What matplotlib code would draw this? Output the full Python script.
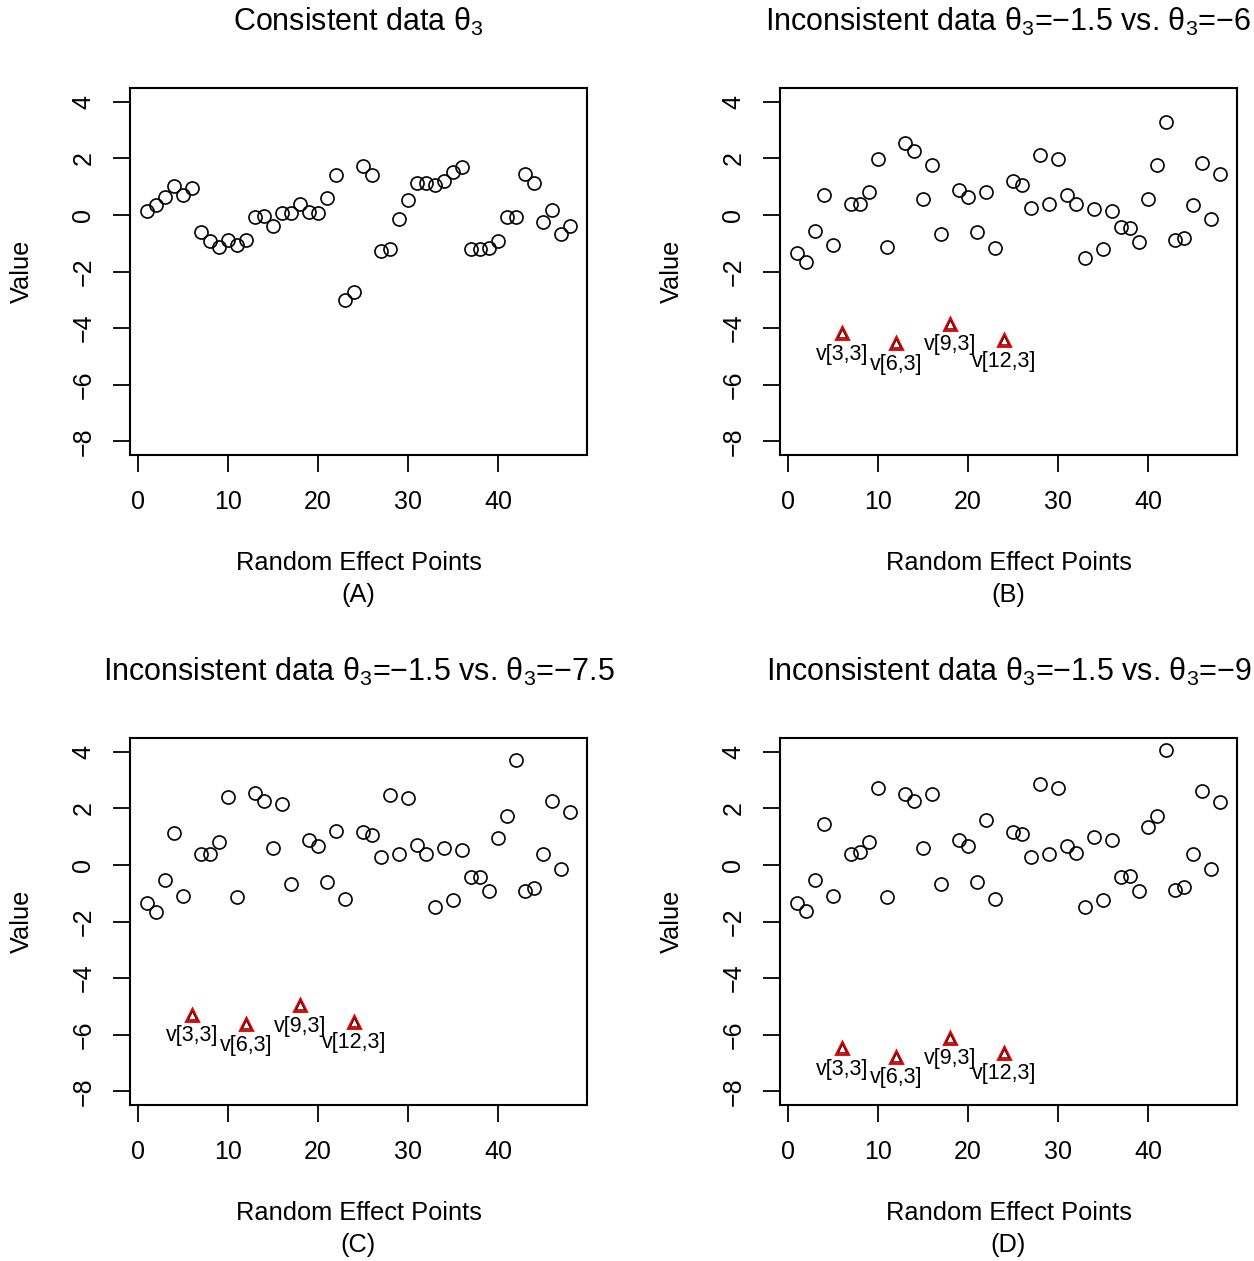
import numpy as np
import matplotlib
matplotlib.use("Agg")
import matplotlib.pyplot as plt

plt.rcParams['font.family'] = ['Liberation Sans', 'DejaVu Sans']
plt.rcParams['mathtext.fontset'] = 'custom'
plt.rcParams['mathtext.rm'] = 'Liberation Sans'
plt.rcParams['mathtext.it'] = 'Liberation Sans:italic'
plt.rcParams['axes.unicode_minus'] = True

x_points = list(range(1, 49))

values_a = [0.12, 0.35, 0.64, 1.02, 0.70, 0.96, -0.61, -0.92, -1.14, -0.88,
            -1.06, -0.90, -0.06, -0.04, -0.39, 0.06, 0.05, 0.38, 0.10, 0.07,
            0.58, 1.40, -3.02, -2.72, 1.72, 1.41, -1.29, -1.22, -0.14, 0.52,
            1.14, 1.14, 1.06, 1.20, 1.50, 1.68, -1.22, -1.22, -1.18, -0.94,
            -0.06, -0.06, 1.44, 1.12, -0.25, 0.18, -0.69, -0.40]

values_b = [-1.34, -1.67, -0.58, 0.71, -1.08, -4.18, 0.40, 0.40, 0.79, 1.98,
            -1.12, -4.53, 2.54, 2.24, 0.56, 1.76, -0.66, -3.85, 0.89, 0.62,
            -0.62, 0.82, -1.16, -4.42, 1.18, 1.06, 0.26, 2.10, 0.40, 1.96,
            0.71, 0.39, -1.53, 0.22, -1.22, 0.12, -0.42, -0.45, -0.95, 0.56,
            1.75, 3.29, -0.87, -0.82, 0.35, 1.84, -0.14, 1.44]

values_c = [-1.35, -1.65, -0.55, 1.12, -1.09, -5.30, 0.40, 0.40, 0.80, 2.38,
            -1.14, -5.63, 2.53, 2.26, 0.58, 2.15, -0.68, -4.95, 0.88, 0.67,
            -0.60, 1.21, -1.20, -5.54, 1.16, 1.06, 0.27, 2.47, 0.39, 2.36,
            0.69, 0.39, -1.50, 0.61, -1.24, 0.51, -0.42, -0.42, -0.93, 0.95,
            1.72, 3.69, -0.91, -0.80, 0.38, 2.24, -0.15, 1.85]

values_d = [-1.34, -1.62, -0.55, 1.45, -1.09, -6.47, 0.40, 0.44, 0.81, 2.73,
            -1.15, -6.78, 2.51, 2.26, 0.59, 2.51, -0.69, -6.11, 0.87, 0.68,
            -0.59, 1.58, -1.19, -6.64, 1.16, 1.09, 0.28, 2.84, 0.39, 2.72,
            0.67, 0.41, -1.49, 0.98, -1.25, 0.87, -0.42, -0.41, -0.93, 1.32,
            1.73, 4.06, -0.89, -0.79, 0.39, 2.62, -0.15, 2.21]

outlier_x = [6, 12, 18, 24]
outlier_labels = ['v[3,3]', 'v[6,3]', 'v[9,3]', 'v[12,3]']

titles = [r'Consistent data θ$_3$',
          r'Inconsistent data θ$_3$=−1.5 vs. θ$_3$=−6',
          r'Inconsistent data θ$_3$=−1.5 vs. θ$_3$=−7.5',
          r'Inconsistent data θ$_3$=−1.5 vs. θ$_3$=−9']
panel_tags = ['(A)', '(B)', '(C)', '(D)']
x_ticks = [0, 10, 20, 30, 40]
y_ticks = [4, 2, 0, -2, -4, -6, -8]

series = [values_a, values_b, values_c, values_d]
has_outliers = [False, True, True, True]

W, H = 1254, 1261
fig = plt.figure(figsize=(W / 100, H / 100), dpi=100)

boxes = [(130, 88), (780, 88), (130, 738), (780, 738)]
bw, bh = 457, 367

for i in range(4):
    l, t = boxes[i]
    ax = fig.add_axes([l / W, 1 - (t + bh) / H, bw / W, bh / H])
    vals = series[i]
    xs = np.array(x_points)
    ys = np.array(vals)
    if has_outliers[i]:
        mask = ~np.isin(xs, outlier_x)
    else:
        mask = np.ones(len(xs), dtype=bool)
    ax.plot(xs[mask], ys[mask], linestyle='none', marker='o', ms=9.4,
            mfc='none', mec='black', mew=1.2)
    if has_outliers[i]:
        oy = [vals[x - 1] for x in outlier_x]
        ax.plot(outlier_x, oy, linestyle='none', marker='^', ms=9.2,
                mfc='none', mec='#e00000', mew=2.0)
        ax.plot(outlier_x, oy, linestyle='none', marker='^', ms=5.5,
                mfc='none', mec='black', mew=0.5)
        for xv, yv, lab in zip(outlier_x, oy, outlier_labels):
            ax.annotate(lab, xy=(xv, yv), xytext=(0, -21),
                        textcoords='offset pixels', ha='center', va='center',
                        fontsize=15.5)
    ax.set_xlim(1 - 0.04 * 47, 48 + 0.04 * 47)
    ax.set_ylim(-8 - 0.04 * 12, 4 + 0.04 * 12)
    ax.set_xticks(x_ticks)
    ax.set_yticks(y_ticks)
    ax.set_yticklabels([str(v).replace('-', '−') for v in y_ticks])
    ax.set_xticklabels([str(v) for v in x_ticks])
    ax.tick_params(axis='both', direction='out', length=12, width=1.3,
                   labelsize=18, pad=13)
    ax.tick_params(axis='y', labelrotation=90, pad=13)
    for lab in ax.get_yticklabels():
        lab.set_va('center')
    for sp in ax.spines.values():
        sp.set_linewidth(1.5)
    ax.annotate(titles[i], xy=(0.5, 1), xycoords='axes fraction',
                xytext=(0, 66), textcoords='offset pixels',
                ha='center', va='center', fontsize=22)
    ax.annotate('Random Effect Points', xy=(0.5, 0), xycoords='axes fraction',
                xytext=(0, -108), textcoords='offset pixels',
                ha='center', va='center', fontsize=18.3)
    ax.annotate(panel_tags[i], xy=(0.5, 0), xycoords='axes fraction',
                xytext=(0, -140), textcoords='offset pixels',
                ha='center', va='center', fontsize=18.3)
    ax.annotate('Value', xy=(0, 0.5), xycoords='axes fraction',
                xytext=(-108, 0), textcoords='offset pixels',
                ha='center', va='center', fontsize=18.3, rotation=90)

fig.savefig('out.png', dpi=100)
